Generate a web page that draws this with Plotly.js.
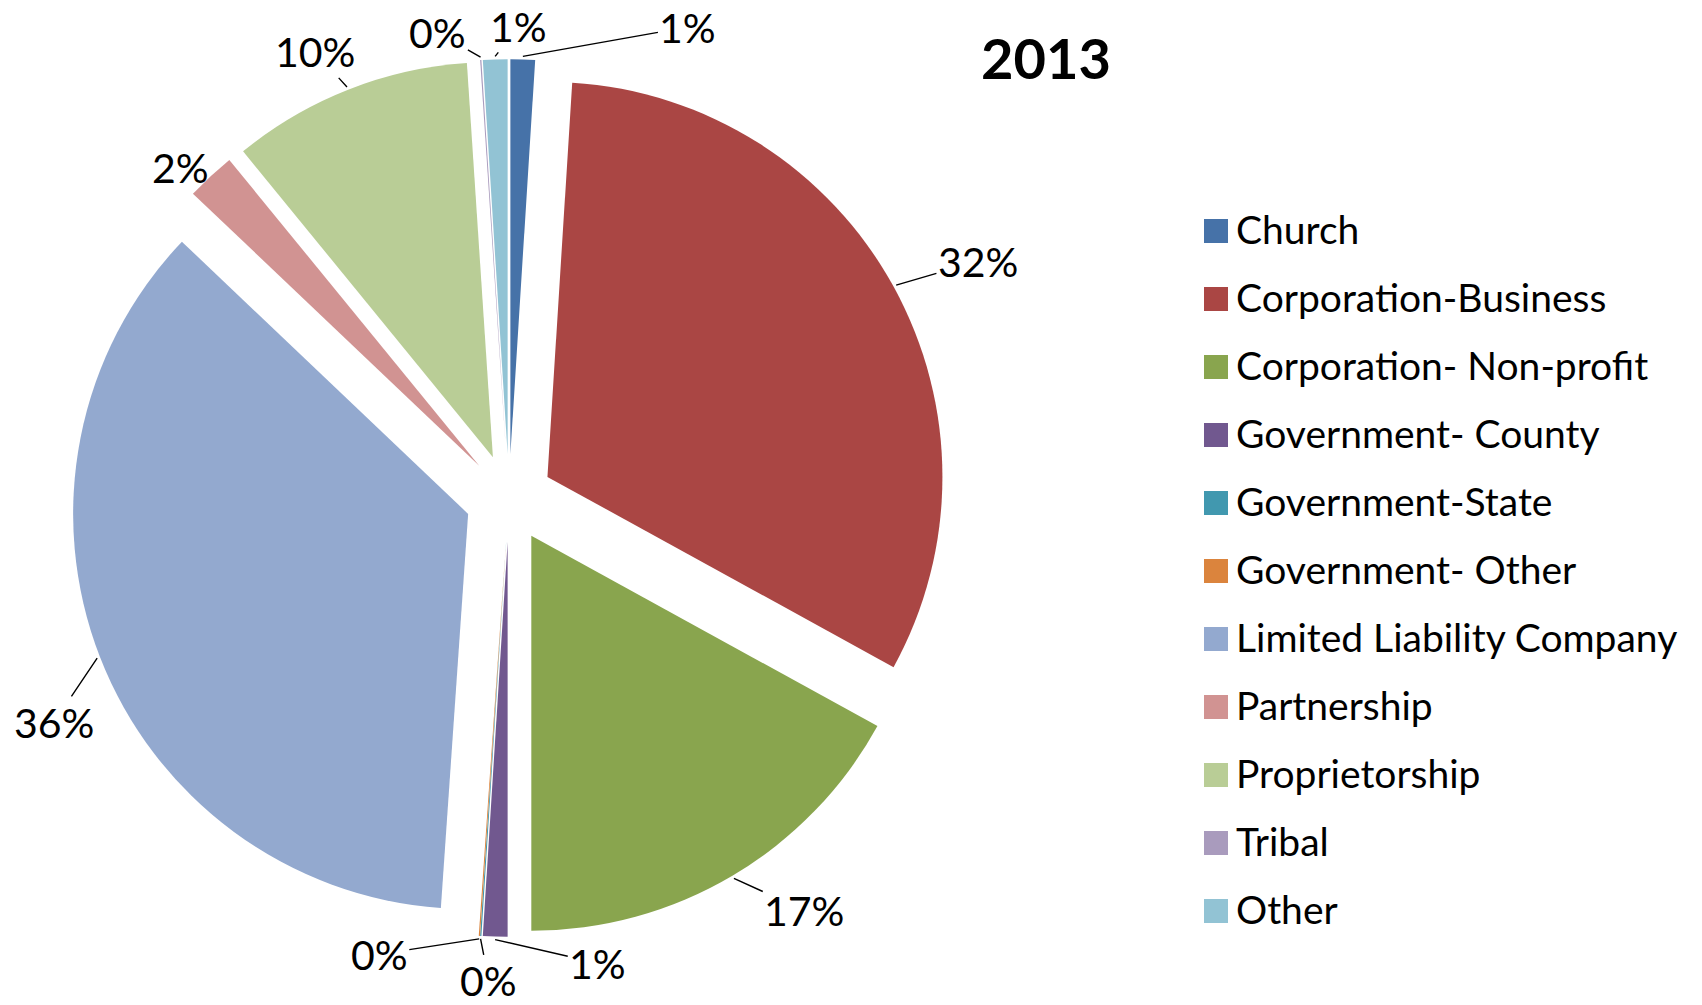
<!DOCTYPE html>
<html><head><meta charset="utf-8">
<script src="https://cdn.plot.ly/plotly-3.0.1.min.js"></script>
<style>
html,body{margin:0;padding:0;background:#fff;}
#chart{width:1702px;height:1005px;}
.legend .legendpie{transform:translate(20px,0px) scale(2);}
.legend .legendtext{font-size:39px !important; transform:translateY(-7px);}
</style></head><body><div id="chart"></div>
<script>
// ---- data ----
const categories = ["Church","Corporation-Business","Corporation- Non-profit","Government- County","Government-State","Government- Other","Limited Liability Company","Partnership","Proprietorship","Tribal","Other"];
const shares = [1.0, 32.0, 17.0, 1.0, 0.05, 0.05, 36.0, 2.0, 9.85, 0.05, 1.0];
const chartTitle = "2013";

// ---- style ----
const colors = ["#4672A8","#AA4644","#89A54E","#71588F","#4198AF","#DB843D","#93A9CF","#D19392","#B9CD96","#A99BBD","#92C3D4"];
const labelNudgeDeg = [19, 2, -5, -12.6, -1.3, 12, -5, -2, -2, -5, 3];
const labelExtraPx = [29, 36, 22, 2, 15, 1, 18, -13, 6, 0, 4];
const showLeader = [true, true, true, true, true, true, true, false, true, true, true];

const W = 1702, H = 1005;
const cx = 509, cy = 498, R = 395, pull = 0.111;
const half = R * (1 + pull);
const fontFam = "Lato, 'Open Sans', sans-serif";
const labelSize = 41;

const total = shares.reduce((a, b) => a + b, 0);
const pctText = shares.map(v => Math.round(v / total * 100) + "%");

const annotations = [];
let cum = 0;
shares.forEach((v, i) => {
  const mid = (cum + v / 2) / total * 2 * Math.PI;
  cum += v;
  const dx = Math.sin(mid), dy = -Math.cos(mid);
  const pr = R * (1 + pull) + 3;
  const px = cx + pr * dx, py = cy + pr * dy;
  const la = mid + labelNudgeDeg[i] * Math.PI / 180;
  const lx = Math.sin(la), ly = -Math.cos(la);
  const hw = pctText[i].length * 0.33 * 38, hh = 0.55 * 38;
  const D = R * 1.13 + hw * Math.abs(lx) + hh * Math.abs(ly) + labelExtraPx[i];
  const tx = cx + D * lx, ty = cy + D * ly;
  const font = {family: fontFam, size: labelSize, color: "#000"};
  if (showLeader[i]) {
    annotations.push({xref: "paper", yref: "paper", x: px / W, y: 1 - py / H,
      ax: tx - px, ay: ty - py, showarrow: true, arrowhead: 0, arrowwidth: 1.4,
      arrowcolor: "#000", text: pctText[i], font: font, standoff: 0});
  } else {
    annotations.push({xref: "paper", yref: "paper", x: tx / W, y: 1 - ty / H,
      showarrow: false, text: pctText[i], font: font, xanchor: "center", yanchor: "middle"});
  }
});

const trace = {
  type: "pie",
  labels: categories,
  values: shares,
  sort: false,
  direction: "clockwise",
  rotation: 0,
  pull: shares.map(() => pull),
  marker: {colors: colors, line: {width: 0}},
  textinfo: "none",
  hoverinfo: "label+percent",
  domain: {x: [(cx - half) / W, (cx + half) / W], y: [1 - (cy + half) / H, 1 - (cy - half) / H]}
};

const layout = {
  width: W, height: H,
  margin: {l: 0, r: 0, t: 0, b: 0, autoexpand: false},
  paper_bgcolor: "#fff",
  title: {text: "<b>" + chartTitle + "</b>", x: 1046 / W, xanchor: "center", y: 1 - 59 / H, yanchor: "middle",
    font: {family: fontFam, size: 56, color: "#000"}},
  showlegend: true,
  legend: {x: 1196 / W, xanchor: "left", y: 1 - 192 / H, yanchor: "top",
    font: {family: fontFam, size: 50, color: "#000"}, bgcolor: "rgba(0,0,0,0)"},
  annotations: annotations
};

Plotly.newPlot("chart", [trace], layout, {displayModeBar: false});
</script></body></html>
